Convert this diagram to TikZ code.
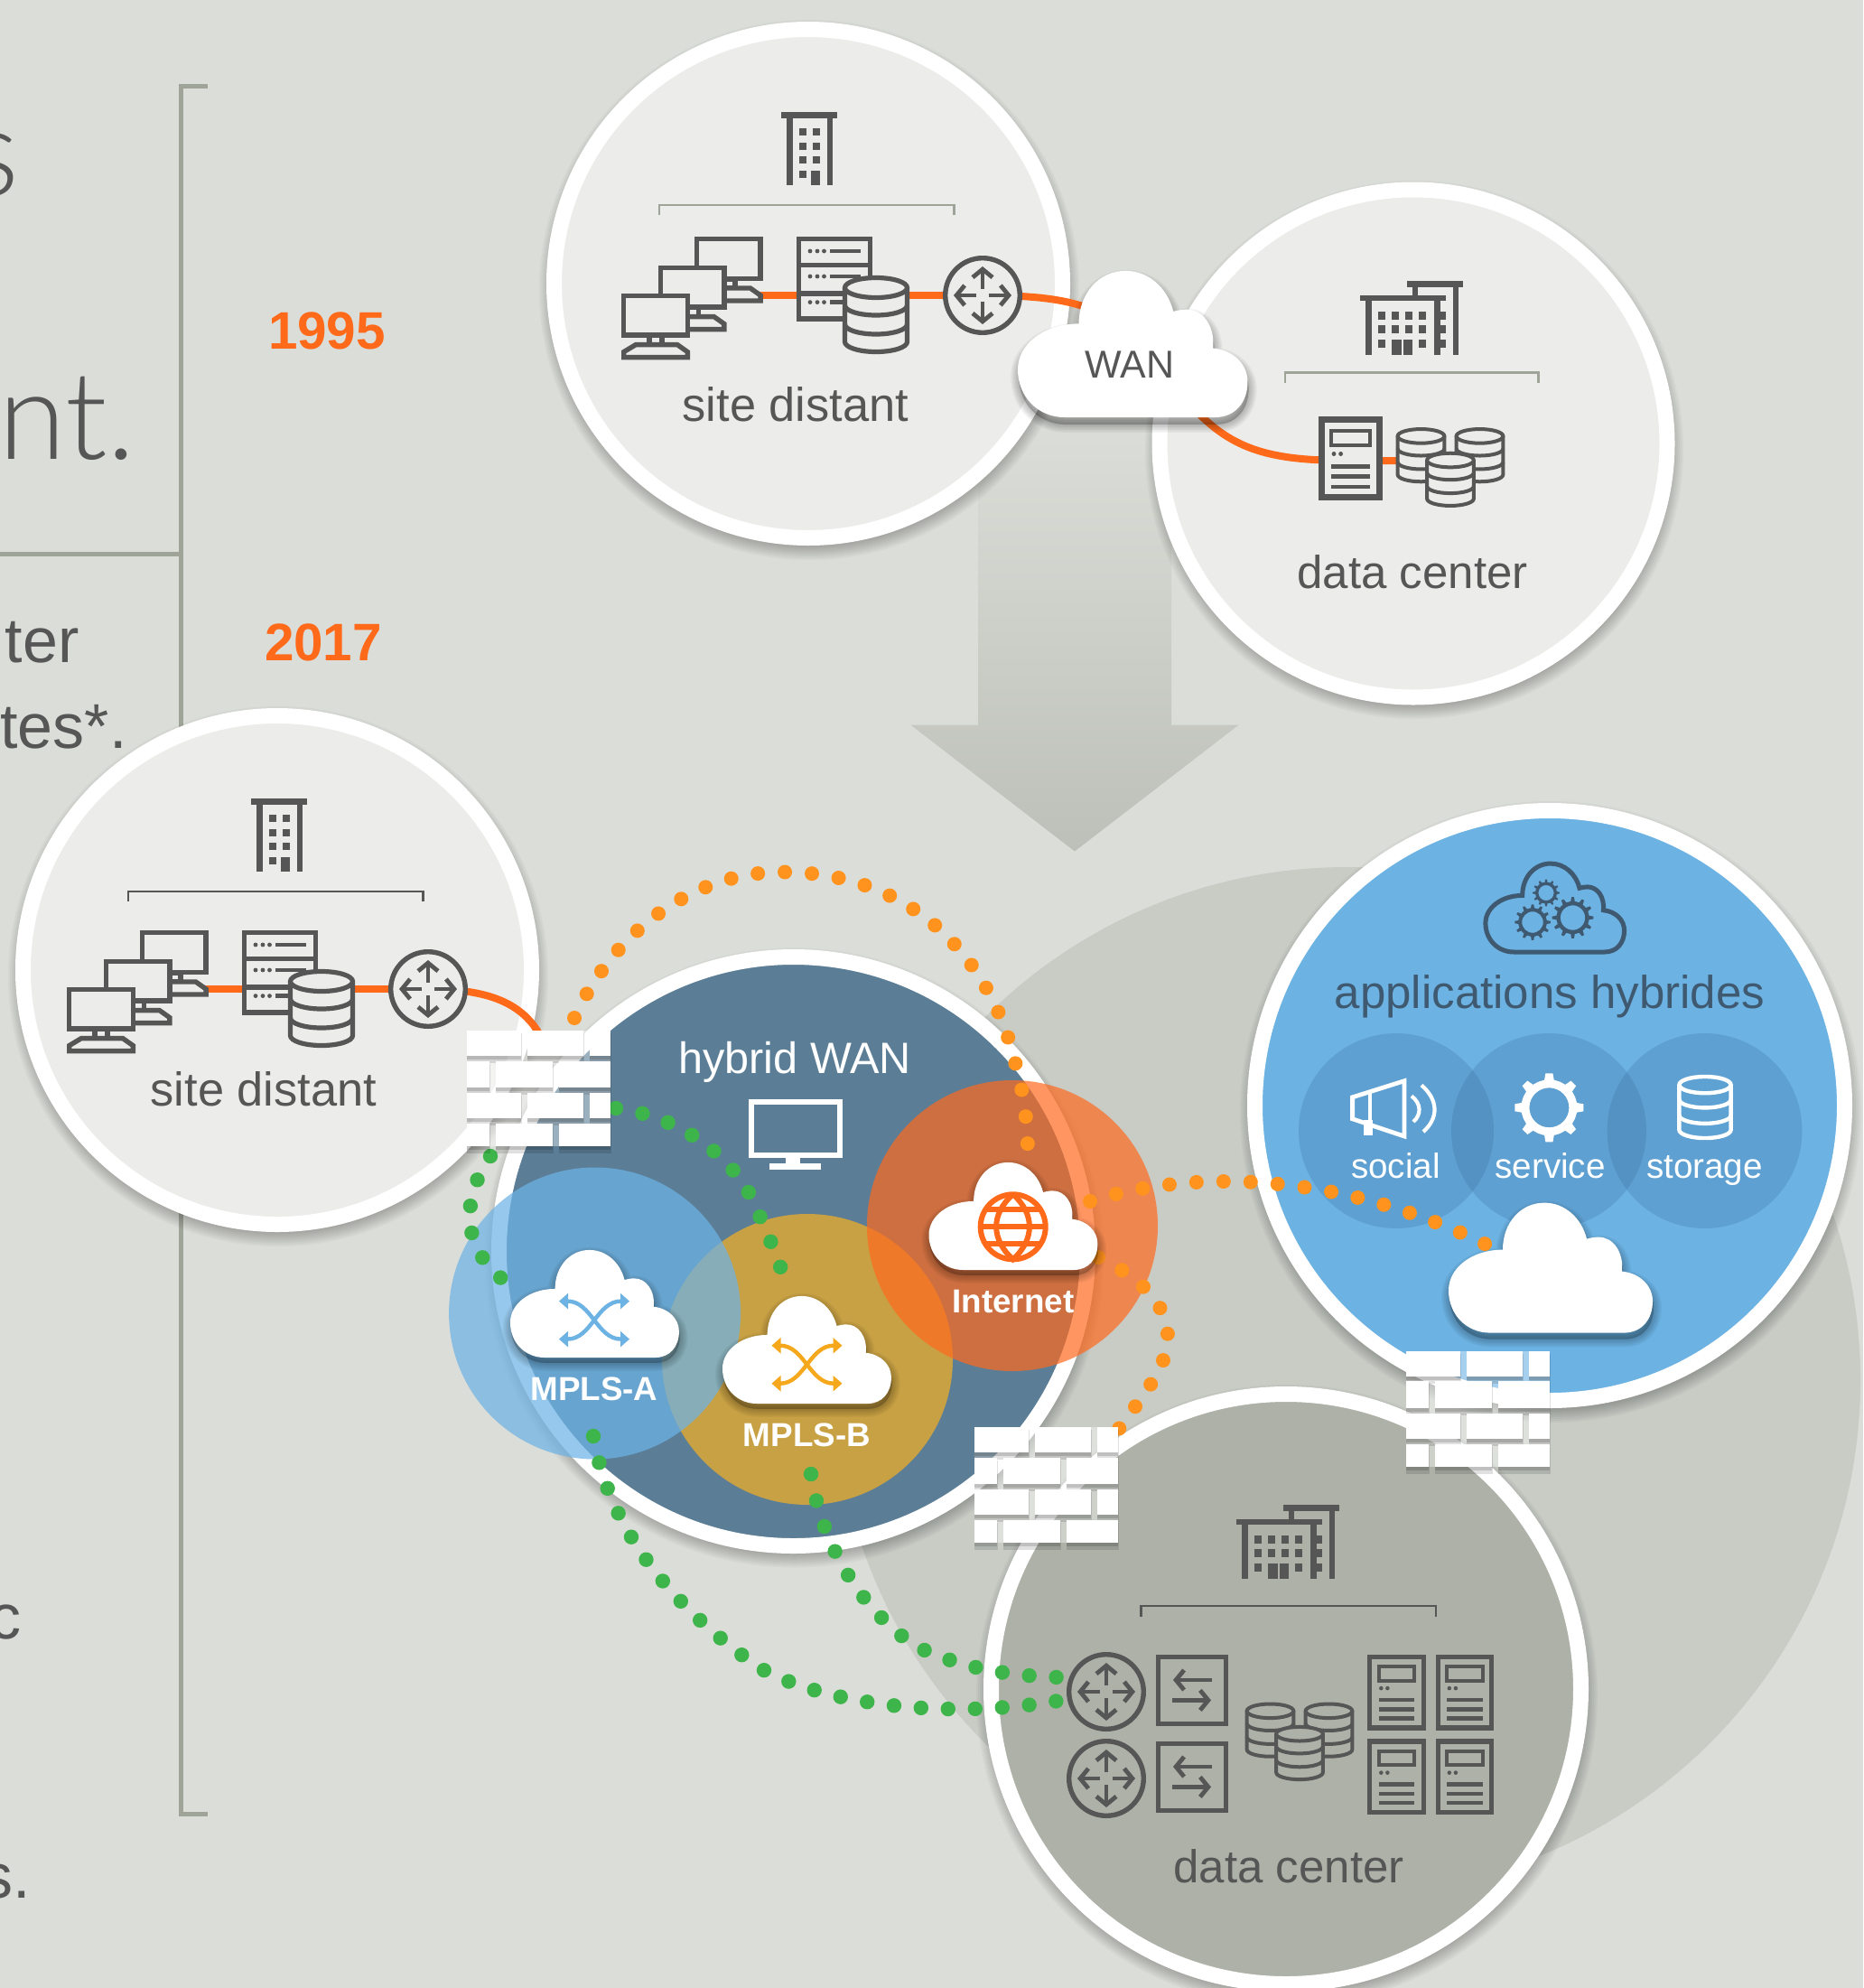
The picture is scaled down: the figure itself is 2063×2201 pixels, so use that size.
\documentclass[tikz,border=0pt]{standalone}
\usepackage{fontspec}
\setmainfont{Liberation Sans}
\newfontfamily\thinfont[UprightFont=* Light]{Lato}
\usetikzlibrary {arrows.meta}

\definecolor{bgcol}{HTML}{DBDDD8}
\definecolor{bigcol}{HTML}{C8CCC5}
\definecolor{arrowend}{HTML}{BDC0B8}
\definecolor{sitefill}{HTML}{ECECEA}
\definecolor{dcfill}{HTML}{AEB1A8}
\definecolor{wanfill}{HTML}{5B7E96}
\definecolor{appblue}{HTML}{6CB2E3}
\definecolor{appink}{HTML}{3F5A70}
\definecolor{storfill}{HTML}{5DA2D2}
\definecolor{ink}{HTML}{565656}
\definecolor{rulecol}{HTML}{9FA499}
\definecolor{wirecol}{HTML}{FF6A1A}
\definecolor{dotorange}{HTML}{FF931E}
\definecolor{dotgreen}{HTML}{3DB54A}
\definecolor{mplsAcol}{RGB}{109,179,229}
\definecolor{mplsBcol}{RGB}{212,165,60}
\definecolor{inetcol}{RGB}{255,105,30}
\definecolor{crossA}{HTML}{6CB2E3}
\definecolor{crossB}{HTML}{F5A81C}
\definecolor{tintcol}{RGB}{40,90,140}
\colorlet{iconbg}{sitefill}

\def\cloudpath{(46,0) -- (194,0) .. controls (214,0) and (226,-15) .. (226,-35) .. controls (226,-52) and (212,-66) .. (192,-68) .. controls (194,-90) and (182,-106) .. (166,-106) .. controls (161,-106) and (157,-105) .. (153,-104) .. controls (147,-128) and (128,-144) .. (106,-144) .. controls (80,-144) and (60,-122) .. (60,-92) .. controls (26,-92) and (0,-72) .. (0,-47) .. controls (0,-20) and (20,0) .. (46,0) -- cycle}
\newcommand\halo[2]{\foreach \d in {0,2,...,14} \fill[black,opacity=.03] (#1)++(1,7) circle[radius=#2+\d-5];}
\newcommand\brick[4]{%
  \fill[black,opacity=.12] (#1,#2+3) rectangle (#3+1,#4+8);
  \fill[black,opacity=.14] (#1,#2+2) rectangle (#3,#4+4);
  \fill[white] (#1,#2) rectangle (#3,#4);}
\newcommand\brickrowA[2]{\foreach \xa/\xb in {0/60,67/129,136/159}{\brick{\xa}{#1}{\xb}{#2}}}
\newcommand\brickrowB[2]{\foreach \xa/\xb in {0/25,32/95,102/159}{\brick{\xa}{#1}{\xb}{#2}}}

\tikzset{
  bgfill/.code={\colorlet{iconbg}{#1}},
  disc/.style={circle,draw=white,line width=8.5pt,inner sep=0pt},
  tint/.style={circle,inner sep=0pt,minimum size=#1},
  lbl/.style={text=ink,font=\fontsize{25.5}{30}\selectfont,inner sep=0pt},
  tag/.style={text=white,font=\fontsize{18.4}{22}\selectfont\bfseries,inner sep=0pt},
  small/.style={text=white,font=\fontsize{19.3}{23}\selectfont,inner sep=0pt,anchor=base},
  side/.style={text=ink,font=\fontsize{35}{40}\selectfont,inner sep=0pt,anchor=base east},
  large/.style={text=ink,font=\fontsize{68}{72}\thinfont,inner sep=0pt,anchor=base east},
  year/.style={text=wirecol,font=\fontsize{29.2}{34}\selectfont\bfseries,inner sep=0pt},
  wire/.style={draw=wirecol,line width=4pt},
  dotso/.style={draw=dotorange,line width=8pt,line cap=round,dash pattern=on 0pt off 15pt},
  dotsg/.style={draw=dotgreen,line width=8.2pt,line cap=round,dash pattern=on 0pt off 15pt},
  ico/.style={line width=2.7pt},
  barb/.style={-{Straight Barb[length=4.5pt,width=11pt]},line width=2.4pt},
  tower/.pic={
    \fill (0,0) rectangle (62,7);
    \fill (6,7) rectangle (13,81); \fill (50.6,7) rectangle (57,81);
    \foreach \wy in {18,33.5,49} {
      \fill (20,\wy) rectangle (28,\wy+8); \fill (35,\wy) rectangle (43,\wy+8);
    }
    \fill (20,65) rectangle (28,73); \fill (33,65) rectangle (43,81);
  },
  campus/.pic={
    \fill (52,0) rectangle (114,7);
    \fill (102.6,7) rectangle (109,78); \fill (58,7) rectangle (64,15);
    \fill (0,15) rectangle (95,21);
    \fill (6,21) rectangle (12.6,78); \fill (82,21) rectangle (89,78);
    \foreach \wy in {32.7,47} {
      \foreach \wx in {20,35,50.4,65} \fill (\wx,\wy) rectangle (\wx+8,\wy+8);
    }
    \foreach \wy in {32.7,47,62} \fill (89,\wy) rectangle (95,\wy+8);
    \fill (20,62) rectangle (28,70); \fill (65,62) rectangle (73,70);
    \fill (35,62) rectangle (46,78); \fill (47.5,62) rectangle (58,78);
  },
  monitor/.pic={
    \draw[ico,fill=iconbg] (2.7,2.7) rectangle (73.3,46.3);
    \draw[ico] (31,47) rectangle (45,57);
    \draw[ico,fill=iconbg] (2.7,71) -- (2.7,65) -- (16,57) -- (62,57) -- (73.3,65) -- (73.3,71) -- cycle;
  },
  db/.pic={
    \draw[fill=iconbg] (-34.5,-30) -- (-34.5,30) arc[start angle=180,end angle=0,x radius=34.5,y radius=11] -- (34.5,-30);
    \draw[fill=iconbg] (0,-30) ellipse[x radius=34.5,y radius=11];
    \foreach \cy in {-10.5,10.5}
      \draw (34.5,\cy) arc[start angle=0,end angle=180,x radius=34.5,y radius=11];
  },
  triple/.pic={
    \pic[xscale=.75,yscale=.71,line width=2pt] at (-32.5,-12.7) {db};
    \pic[xscale=.75,yscale=.71,line width=2pt] at (32.5,-12.7) {db};
    \pic[xscale=.75,yscale=.71,line width=2pt] at (0,12.7) {db};
  },
  router/.pic={
    \draw[ico,fill=iconbg] (0,0) circle[radius=41.3];
    \foreach \a in {0,90,180,270} \draw[barb,rotate=\a] (7,0) -- (32,0);
  },
  rack/.pic={
    \draw[fill=iconbg] (3.5,3.5) rectangle (67.5,85);
    \draw[line width=2pt] (14,15) rectangle (56.6,30.6);
    \fill (17,39.5) circle[radius=2.4]; \fill (24.6,39.5) circle[radius=2.4];
    \foreach \ry in {53,63.5,74} \draw[line width=2.2pt] (14,\ry) -- (56.6,\ry);
  },
  swbox/.pic={
    \draw[ico] (2.75,2.75) rectangle (77.25,76.25);
    \draw[barb] (62,28) -- (19,28);
    \draw[barb] (18,50.4) -- (61,50.4);
  },
  hostgroup/.pic={
    \pic at (-319.2,-65) {monitor};
    \pic at (-359.4,-33.4) {monitor};
    \pic at (-400,-2.4) {monitor};
    \draw[ico,fill=iconbg] (-203.3,-62.3) rectangle (-124.7,25.9);
    \draw[ico] (-203.3,-33.4) -- (-124.7,-33.4); \draw[ico] (-203.3,-2) -- (-124.7,-2);
    \foreach \sy in {-49,-21,7.6} {
      \foreach \sx in {-191,-183,-175.5} \fill (\sx,\sy) circle[radius=2.4];
      \fill (-169,\sy-2.2) rectangle (-135.3,\sy+2.2);
    }
    \pic[line width=2.6pt] at (-118,21.5) {db};
    \pic at (0,0) {router};
  },
  gear/.pic={
    \pgfmathsetmacro\gstep{360/#1}
    \pgfmathsetmacro\ghalf{40/#1}
    \draw (0,0) circle[radius=26.5];
    \foreach \k in {1,...,#1}
      \fill[rotate=\k*\gstep] (-\ghalf-1,27) -- (\ghalf+1,27) -- (\ghalf-1,38) -- (-\ghalf+1,38) -- cycle;
  },
  cloudy/.pic={
    \foreach \w in {1.5,3,...,9}
      \draw[black,opacity=.04,line width=\w pt,fill,line join=round,shift={(1,7)}] \cloudpath;
    \fill[white] \cloudpath;
  },
  wall/.pic={
    \fill[white,opacity=.4] (0,0) rectangle (159,128);
    \brickrowA{0}{28}
    \brickrowB{33.5}{63}
    \brickrowA{69}{97}
    \brickrowB{103}{128}
  },
  swap/.pic={
    \draw[{Triangle[length=5pt,width=8.5pt]}-{Triangle[length=5pt,width=8.5pt]},line width=2.2pt] (-39,-21) .. controls (-3,-21) and (3,21) .. (39,21);
    \draw[{Triangle[length=5pt,width=8.5pt]}-{Triangle[length=5pt,width=8.5pt]},line width=2.2pt] (-39,21) .. controls (-3,21) and (3,-21) .. (39,-21);
  }
}

\begin{document}
\begin{tikzpicture}[x=.5pt,y=-.5pt]
  \useasboundingbox (0,0) rectangle (2063,2201);
  \clip (0,0) rectangle (2063,2201);
  \fill[bgcol] (0,0) rectangle (2063,2201);

  % text column, cut by the page
  \node[large] at (21.5,216) (txtA) {s};
  \node[large] at (151,508) (txtB) {ant.};
  \node[side] at (88,733.5) (txtC) {ter};
  \node[side] at (141,828) (txtD) {tes*.};
  \node[side] at (24,1814) (txtE) {c};
  \node[side] at (34,2101.7) (txtF) {s.};
  \draw[rulecol,line width=2.5pt] (230,95) -- (200.5,95) -- (200.5,2008) -- (230,2008);
  \draw[rulecol,line width=2.5pt] (0,613.5) -- (200.5,613.5);
  \node[year] at (362,366) (yrA) {1995};
  \node[year] at (358,711) (yrB) {2017};

  \shade[top color=bgcol,bottom color=arrowend] (1083,470) -- (1297,470) -- (1297,802.5) -- (1371.7,802.5) -- (1190,942.5) -- (1008.3,802.5) -- (1083,802.5) -- cycle;
  \fill[bigcol] (1492,1528) circle[radius=568];

  % 1995
  \coordinate (siteT) at (895,314);
  \coordinate (dcT) at (1565,491);
  \halo{siteT}{290}
  \halo{dcT}{289}
  \node[disc,fill=sitefill,minimum size=281.5pt] at (siteT) (siteTdisc) {};
  \node[disc,fill=sitefill,minimum size=281pt] at (dcT) (dcTdisc) {};
  \pic[ink] at (865,124) {tower};
  \draw[rulecol,line width=1.3pt] (730,238) -- (730,227) -- (1056.5,227) -- (1056.5,238);
  \coordinate (rtrT) at (1088,327);
  \coordinate (pcT) at (840,327);
  \coordinate (wanL) at (1215,345);
  \coordinate (wanB) at (1320,450);
  \coordinate (rackT) at (1495,510);
  \coordinate (dbT) at (1606,510);
  \draw[wire] (pcT) -- (rtrT);
  \draw[wire] (rtrT) .. controls (1150,327) and (1185,332) .. (wanL);
  \draw[wire] (wanB) .. controls (1365,500) and (1410,510) .. (rackT) -- (dbT);
  \pic[ink] at (rtrT) {hostgroup};
  \node[lbl,font=\fontsize{26.2}{30}\selectfont] at (881,448) (siteTlbl) {site distant};
  \pic[ink,yscale=1.05] at (1506,311) {campus};
  \draw[rulecol,line width=1.3pt] (1423,424.3) -- (1423,412.3) -- (1703.5,412.3) -- (1703.5,424.3);
  \pic[ink,yscale=1.05,line width=3.5pt] at (1460,461) {rack};
  \pic[ink,yscale=1.05] at (1606,517.5) {triple};
  \node[lbl] at (1564,633) (dcTlbl) {data center};
  \pic[scale=1.126] at (1127,462) {cloudy};
  \node[lbl,font=\fontsize{21.5}{26}\selectfont] at (1251,404) (wanlbl) {WAN};

  % 2017
  \coordinate (siteL) at (307,1074);
  \coordinate (hyb) at (878.5,1385.5);
  \coordinate (apps) at (1716,1224);
  \coordinate (dcB) at (1424,1870);
  \halo{siteL}{290}
  \halo{hyb}{334}
  \halo{apps}{335}
  \halo{dcB}{335}
  \node[disc,fill=sitefill,minimum size=281.5pt] at (siteL) (siteLdisc) {};
  \node[disc,fill=wanfill,minimum size=326pt] at (hyb) (hybdisc) {};
  \node[disc,fill=appblue,minimum size=326.5pt] at (apps) (appsdisc) {};
  \node[disc,fill=dcfill,minimum size=326.5pt] at (dcB) (dcBdisc) {};

  \pic[ink] at (278,884) {tower};
  \draw[ink,line width=1.3pt] (142,998) -- (142,987) -- (468.5,987) -- (468.5,998);
  \coordinate (rtrL) at (474,1095);
  \coordinate (pcL) at (226,1095);
  \coordinate (wallA) at (600,1150);
  \draw[wire] (pcL) -- (rtrL);
  \draw[wire] (rtrL) .. controls (540,1095) and (580,1110) .. (wallA);
  \pic[ink] at (rtrL) {hostgroup};
  \node[lbl,font=\fontsize{26.2}{30}\selectfont] at (292,1206) (siteLlbl) {site distant};

  % data center
  \pic[ink,yscale=1.05] at (1369,1666) {campus};
  \draw[ink,line width=1.3pt] (1263.5,1789.5) -- (1263.5,1778) -- (1590,1778) -- (1590,1789.5);
  \pic[ink,bgfill=dcfill] at (1225,1873) {router};
  \pic[ink,bgfill=dcfill] at (1225,1969) {router};
  \pic[ink] at (1280,1832) {swbox};
  \pic[ink] at (1280,1928) {swbox};
  \pic[ink,bgfill=dcfill] at (1439,1928.3) {triple};
  \foreach \px/\py in {1513.5/1831,1589/1831,1513.5/1924.5,1589/1924.5}
    \pic[ink,bgfill=dcfill,xscale=.93,yscale=.965,line width=2.7pt] at (\px,\py) {rack};
  \node[lbl] at (1427,2066) (dcBlbl) {data center};

  % applications
  \node[tint=108pt,fill=tintcol,fill opacity=.2] at (1546,1252) (socdisc) {};
  \node[tint=108pt,fill=tintcol,fill opacity=.2] at (1715,1252) (serdisc) {};
  \node[tint=108pt,fill=tintcol,fill opacity=.2] at (1887.5,1252) (stodisc) {};
  \draw[appink,line width=2.5pt,scale=.68,shift={(2419,1550)}] \cloudpath;
  \pic[appink,scale=.39,line width=1.7pt] at (1712,988.5) {gear=12};
  \pic[appink,scale=.52,line width=2pt] at (1697,1021) {gear=12};
  \pic[appink,scale=.6,line width=2.2pt] at (1741.5,1016) {gear=12};
  \node[lbl,text=appink,anchor=base] at (1716,1116) (appslbl) {applications hybrides};
  \draw[white,line width=2.4pt,line join=miter] (1497.6,1214.8) -- (1555,1196.7) -- (1555,1258) -- (1497.6,1238.8) -- cycle;
  \draw[white,line width=2.4pt] (1517,1209) -- (1517,1244);
  \fill[white] (1510,1240) rectangle (1519.5,1256.5);
  \draw[white,line width=2.1pt] (1563,1213.4) .. controls (1574,1222) and (1574,1234) .. (1565,1242);
  \draw[white,line width=2.1pt] (1574,1201.4) .. controls (1593,1218) and (1593,1238) .. (1576,1253);
  \pic[white,line width=4.5pt] at (1715.4,1226.3) {gear=8};
  \pic[white,bgfill=storfill,xscale=.83,yscale=.83,line width=2.2pt] at (1888,1226) {db};
  \node[small] at (1545.5,1304) (soclbl) {social};
  \node[small] at (1716.5,1304) (serlbl) {service};
  \node[small] at (1887.5,1304) (stolbl) {storage};

  % hybrid WAN
  \node[tint=161pt,fill=mplsBcol,fill opacity=.9] at (894,1505) (mplsB) {};
  \node[tint=161.5pt,fill=mplsAcol,fill opacity=.72] at (658.6,1454) (mplsA) {};
  \node[tint=161pt,fill=inetcol,fill opacity=.7] at (1121,1357) (inet) {};
  \node[lbl,text=white,anchor=base,font=\fontsize{24.3}{28}\selectfont] at (880,1188) (hyblbl) {hybrid WAN};
  \draw[white,line width=3pt] (831.5,1220) rectangle (929.6,1279);
  \draw[white,line width=3pt] (873,1282) rectangle (883,1288);
  \fill[white] (852,1288.4) rectangle (909,1295);

  % links
  \coordinate (wallAt) at (636,1127);
  \coordinate (wallAr) at (682,1227);
  \coordinate (wallAb) at (543,1280);
  \coordinate (wallBt) at (1236,1586);
  \coordinate (inetT) at (1138,1277);
  \coordinate (inetR) at (1207,1330);
  \coordinate (inetS) at (1216,1392);
  \coordinate (appsC) at (1652,1381);
  \coordinate (mplsAt) at (576,1430);
  \coordinate (mplsAb) at (657,1590);
  \coordinate (mplsBt) at (870,1420);
  \coordinate (mplsBb) at (898,1632);
  \coordinate (rtrU) at (1172,1857);
  \coordinate (rtrV) at (1172,1883);
  \draw[dotso] (wallAt) .. controls (680,1030) and (770,965) .. (866,965.5) .. controls (1000,965) and (1095,1050) .. (1125,1180) .. controls (1135,1215) and (1138,1250) .. (inetT);
  \draw[dotso] (inetR) .. controls (1255,1315) and (1305,1308) .. (1356,1308) .. controls (1450,1308) and (1550,1330) .. (appsC);
  \draw[dotso] (inetS) .. controls (1255,1410) and (1293,1440) .. (1293,1480) .. controls (1293,1515) and (1265,1545) .. (wallBt);
  \draw[dotsg] (wallAr) .. controls (750,1235) and (815,1280) .. (838,1339) .. controls (852,1370) and (862,1395) .. (mplsBt);
  \draw[dotsg] (mplsBb) .. controls (908,1700) and (945,1775) .. (1013,1822) .. controls (1060,1845) and (1110,1855) .. (rtrU);
  \draw[dotsg] (wallAb) .. controls (515,1320) and (500,1385) .. (mplsAt);
  \draw[dotsg] (mplsAb) .. controls (672,1680) and (730,1770) .. (842,1847) .. controls (910,1885) and (1040,1905) .. (rtrV);

  % clouds
  \pic[scale=.827] at (565,1503) {cloudy};
  \pic[crossA] at (658,1461.6) {swap};
  \node[tag] at (658,1537.5) (mplsAlbl) {MPLS-A};
  \pic[scale=.827] at (800,1554) {cloudy};
  \pic[crossB] at (893.5,1510.7) {swap};
  \node[tag] at (893.5,1589) (mplsBlbl) {MPLS-B};
  \pic[scale=.827] at (1028.5,1406) {cloudy};
  \draw[wirecol,line width=3pt] (1121.7,1358.3) circle[radius=36];
  \draw[wirecol,line width=3pt] (1121.7,1322.3) .. controls (1097,1344) and (1097,1372) .. (1121.7,1394.3) .. controls (1146,1372) and (1146,1344) .. (1121.7,1322.3);
  \draw[wirecol,line width=3pt] (1091,1339.3) -- (1152.4,1339.3);
  \draw[wirecol,line width=3pt] (1086,1358.3) -- (1157.4,1358.3);
  \draw[wirecol,line width=3pt] (1091,1377.3) -- (1152.4,1377.3);
  \node[tag] at (1122,1440.6) (inetlbl) {Internet};
  \pic at (1604,1475.6) {cloudy};

  % firewalls
  \pic at (517,1141) {wall};
  \pic at (1079,1580) {wall};
  \pic at (1557,1495.7) {wall};
\end{tikzpicture}
\end{document}
